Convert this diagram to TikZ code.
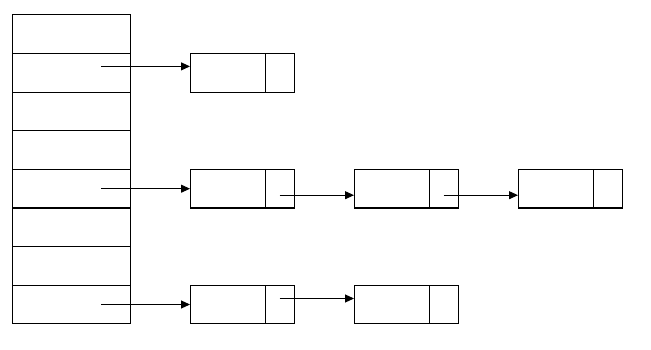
\documentclass[tikz,border=0pt]{standalone}
\usetikzlibrary{positioning, arrows.meta}

\begin{document}
\begin{tikzpicture}[
  x=1pt, y=-1pt,
  line width=1pt,
  node distance=0pt and 60pt,
  slot/.style={
    draw, minimum width=118pt, minimum height=38.6pt,
    inner sep=0pt, outer sep=0pt
  },
  item/.style={
    draw, minimum width=75pt, minimum height=38.6pt,
    inner sep=0pt, outer sep=0pt
  },
  nxt/.style={
    draw, minimum width=29pt, minimum height=38.6pt,
    inner sep=0pt, outer sep=0pt
  },
  link/.style={-{Triangle[length=9pt,width=8pt]}},
]
\useasboundingbox (0,0) rectangle (651,350);

% bucket array
\node[slot, anchor=north west] (b1) at (12,15) {};
\node[slot, below=of b1] (b2) {};
\node[slot, below=of b2] (b3) {};
\node[slot, below=of b3] (b4) {};
\node[slot, below=of b4] (b5) {};
\node[slot, below=of b5] (b6) {};
\node[slot, below=of b6] (b7) {};
\node[slot, below=of b7] (b8) {};

% chain of bucket 2
\node[item, right=of b2] (a1) {};
\node[nxt, right=0pt of a1] (a1n) {};

% chain of bucket 5
\node[item, right=of b5] (c1) {};
\node[nxt, right=0pt of c1] (c1n) {};
\node[item, right=of c1n] (c2) {};
\node[nxt, right=0pt of c2] (c2n) {};
\node[item, right=of c2n] (c3) {};
\node[nxt, right=0pt of c3] (c3n) {};

% chain of bucket 8
\node[item, right=of b8] (d1) {};
\node[nxt, right=0pt of d1] (d1n) {};
\node[item, right=of d1n] (d2) {};
\node[nxt, right=0pt of d2] (d2n) {};

\draw[link] ([xshift=30pt, yshift=6.5pt]b2.center) -- ([yshift=6.5pt]a1.west);
\draw[link] ([xshift=30pt]b5.center) -- (c1.west);
\draw[link] ([yshift=-6.5pt]c1n.center) -- ([yshift=-6.5pt]c2.west);
\draw[link] ([yshift=-6.5pt]c2n.center) -- ([yshift=-6.5pt]c3.west);
\draw[link] ([xshift=30pt]b8.center) -- (d1.west);
\draw[link] ([yshift=6pt]d1n.center) -- ([yshift=6pt]d2.west);

\end{tikzpicture}
\end{document}
